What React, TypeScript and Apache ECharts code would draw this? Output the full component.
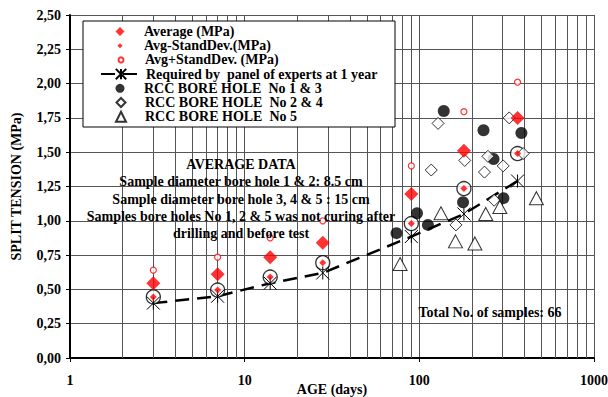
import React, { useEffect, useRef } from "react";
import * as echarts from "echarts";

// ---- data ----
const ages = [3, 7, 14, 28, 90, 180, 365];
const average = [0.545, 0.61, 0.735, 0.84, 1.195, 1.51, 1.75];
const avgMinusSd = [0.445, 0.495, 0.59, 0.695, 0.98, 1.235, 1.49];
const avgPlusSd = [0.64, 0.735, 0.875, 1.0, 1.4, 1.795, 2.01];
const required = [0.4, 0.45, 0.545, 0.62, 0.885, 1.05, 1.29];

const bore13: [number, number][] = [
  [74, 0.91], [97, 1.055], [112, 0.97], [138, 1.8], [178, 1.135],
  [233, 1.66], [266, 1.45], [303, 1.165], [384, 1.64],
];
const bore24: [number, number][] = [
  [117, 1.37], [128, 1.71], [162, 0.97], [182, 1.44], [236, 1.355],
  [247, 1.47], [268, 1.15], [302, 1.4], [327, 1.75], [393, 1.49],
];
const bore5: [number, number][] = [
  [77.6, 0.685], [133, 1.055], [161, 0.85], [208, 0.835], [240, 1.05],
  [289, 1.1], [468, 1.165],
];

const decades = [1, 10, 100];
const minorMultipliers = [2, 3, 4, 5, 6, 7, 8, 9];

const names = {
  avg: "Average (MPa)",
  minus: "Avg-StandDev.(MPa)",
  plus: "Avg+StandDev. (MPa)",
  req: "Required by  panel of experts at 1 year",
  b13: "RCC BORE HOLE  No 1 & 3",
  b24: "RCC BORE HOLE  No 2 & 4",
  b5: "RCC BORE HOLE  No 5",
};

const noteLines = [
  "AVERAGE DATA",
  "Sample diameter bore hole 1 & 2: 8.5 cm",
  "Sample diameter bore hole 3, 4 & 5 : 15 cm",
  "Samples bore holes No 1, 2 & 5 was not curing after",
  "drilling and before test",
];
const totalNote = "Total No. of samples: 66";

const FONT = "Liberation Serif";
const FS = 14;
const starPath = "path://M0,0L10,10M10,0L0,10M5,0L5,10";

export default function App() {
  const ref = useRef<HTMLDivElement>(null);

  useEffect(() => {
    if (!ref.current) return;
    const chart = echarts.init(ref.current, undefined, { renderer: "svg" });

    const pair = (ys: number[]) => ages.map((a, i) => [a, ys[i]]);
    const minorX: number[] = [];
    decades.forEach((d) => minorMultipliers.forEach((m) => minorX.push(d * m)));

    const txt = {
      fontFamily: FONT,
      fontWeight: "bold" as const,
      fontSize: FS,
      color: "#000",
    };

    // [name, centre y, icon size, isLine]
    const legendRows: [string, number, number, boolean][] = [
      [names.avg, 31, 9, false],
      [names.minus, 45.2, 5, false],
      [names.plus, 59.4, 5, false],
      [names.req, 73.6, 13, true],
      [names.b13, 87.8, 9, false],
      [names.b24, 102, 9, false],
      [names.b5, 116.2, 10, false],
    ];
    const iconCx = 120;
    const textX = 144;

    const legends = legendRows.map(([name, cy, h, isLine]) => {
      const w = isLine ? 40 : h;
      const left = isLine ? 100 : iconCx - h / 2;
      const pad = Math.max(0, textX - (left + w + 5));
      return {
        data: [name],
        orient: "vertical",
        left,
        top: cy - 6.5,
        padding: 0,
        itemWidth: w,
        itemHeight: h,
        symbolKeepAspect: true,
        selectedMode: false,
        z: 5,
        textStyle: { ...txt, lineHeight: 13, padding: [0, 0, 0, pad] },
      };
    });

    const noteY = [164, 181.5, 199, 216, 233];

    chart.setOption({
      animation: false,
      backgroundColor: "#fff",
      grid: {
        left: 70,
        right: 14,
        top: 15,
        bottom: 39,
        containLabel: false,
        outerBoundsMode: "none",
      },
      legend: legends,
      xAxis: {
        type: "log",
        logBase: 10,
        min: 1,
        max: 1000,
        name: "AGE (days)",
        nameLocation: "middle",
        nameGap: 24,
        nameMoveOverlap: false,
        nameTextStyle: txt,
        axisLine: { show: true, lineStyle: { color: "#000", width: 2 } },
        axisTick: { show: true, length: 4, lineStyle: { color: "#000" } },
        axisLabel: { ...txt, margin: 15, formatter: (v: number) => String(Math.round(v)) },
        splitLine: { show: true, lineStyle: { color: "#555", width: 1 } },
        minorTick: { show: false },
        minorSplitLine: { show: false },
      },
      yAxis: {
        type: "value",
        min: 0,
        max: 2.5,
        interval: 0.25,
        name: "SPLIT TENSION (MPa)",
        nameLocation: "middle",
        nameGap: 47,
        nameMoveOverlap: false,
        nameRotate: 90,
        nameTextStyle: txt,
        axisLine: { show: true, lineStyle: { color: "#000", width: 2 } },
        axisTick: { show: true, length: 4, lineStyle: { color: "#000" } },
        axisLabel: {
          ...txt,
          margin: 9,
          formatter: (v: number) => v.toFixed(2).replace(".", ","),
        },
        splitLine: { show: true, lineStyle: { color: "#555", width: 1 } },
      },
      graphic: [
        {
          type: "rect",
          z: 4,
          shape: { x: 83, y: 21, width: 312, height: 106 },
          style: { fill: "#fff", stroke: "#000", lineWidth: 1 },
        },
        ...noteLines.map((t, i) => ({
          type: "text",
          z: 4,
          x: 241,
          y: noteY[i],
          style: {
            text: t,
            fontFamily: FONT,
            fontWeight: "bold",
            fontSize: FS,
            fill: "#000",
            align: "center",
            verticalAlign: "middle",
          },
        })),
        {
          type: "text",
          z: 4,
          x: 490,
          y: 312,
          style: {
            text: totalNote,
            fontFamily: FONT,
            fontWeight: "bold",
            fontSize: FS,
            fill: "#000",
            align: "center",
            verticalAlign: "middle",
          },
        },
      ],
      series: [
        {
          name: "minorGrid",
          type: "line",
          data: [],
          silent: true,
          markLine: {
            silent: true,
            z: 1,
            symbol: ["none", "none"],
            label: { show: false },
            lineStyle: { color: "#555", width: 1, type: "solid" },
            emphasis: { disabled: true },
            data: minorX.map((v) => ({ xAxis: v })),
          },
        },
        {
          name: "rings",
          type: "scatter",
          data: pair(avgMinusSd),
          symbol: "circle",
          symbolSize: 14,
          z: 3,
          itemStyle: { color: "#fff", borderColor: "#000", borderWidth: 1.3 },
        },
        {
          name: names.b13,
          type: "scatter",
          data: bore13,
          symbol: "circle",
          symbolSize: 12,
          z: 3,
          itemStyle: { color: "#000" },
        },
        {
          name: names.b24,
          type: "scatter",
          data: bore24,
          symbol: "diamond",
          symbolSize: 12,
          z: 3,
          itemStyle: { color: "#fff", borderColor: "#000", borderWidth: 1 },
        },
        {
          name: names.b5,
          type: "scatter",
          data: bore5,
          symbol: "triangle",
          symbolSize: [14, 13],
          z: 3,
          itemStyle: { color: "#fff", borderColor: "#000", borderWidth: 1 },
        },
        {
          name: names.req,
          type: "line",
          data: pair(required),
          symbol: starPath,
          symbolSize: 13,
          showSymbol: true,
          z: 3,
          lineStyle: { color: "#000", width: 2.5, type: [14, 8] },
          itemStyle: { color: "#000", borderColor: "#000", borderWidth: 1 },
        },
        {
          name: names.avg,
          type: "scatter",
          data: pair(average),
          symbol: "diamond",
          symbolSize: 14,
          z: 3,
          itemStyle: { color: "#ff0000" },
        },
        {
          name: names.minus,
          type: "scatter",
          data: pair(avgMinusSd),
          symbol: "diamond",
          symbolSize: 7,
          z: 3,
          itemStyle: { color: "#ff0000" },
        },
        {
          name: names.plus,
          type: "scatter",
          data: pair(avgPlusSd),
          symbol: "circle",
          symbolSize: 6,
          z: 3,
          itemStyle: { color: "#fff", borderColor: "#ff0000", borderWidth: 1.2 },
        },
      ],
    });

    return () => chart.dispose();
  }, []);

  return (
    <div
      ref={ref}
      style={{ position: "fixed", left: 0, top: 0, width: 608, height: 397 }}
    />
  );
}
